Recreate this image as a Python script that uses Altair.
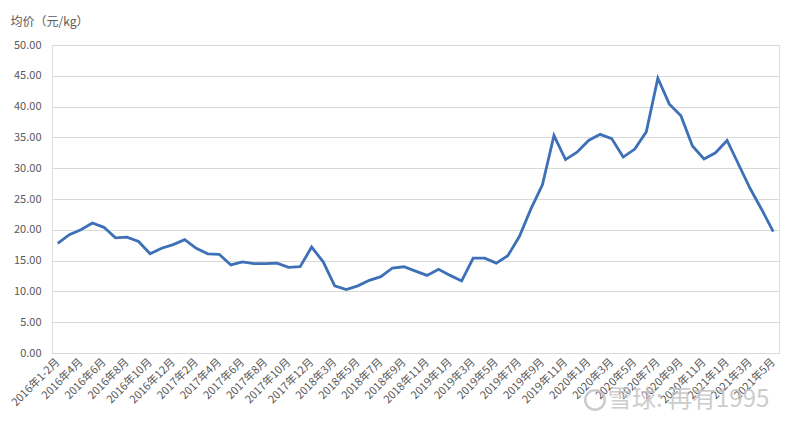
import altair as alt
import pandas as pd

months = (
    ["2016年1-2月"] + [f"2016年{m}月" for m in range(3, 13)]
    + [f"2017年{m}月" for m in range(1, 13)]
    + ["2018年1-2月"] + [f"2018年{m}月" for m in range(3, 13)]
    + [f"2019年{m}月" for m in range(1, 13)]
    + [f"2020年{m}月" for m in range(1, 13)]
    + [f"2021年{m}月" for m in range(1, 6)]
)

prices = [
    17.8, 19.2, 20.0, 21.1, 20.4, 18.7, 18.8, 18.1, 16.1, 17.0, 17.6,
    18.4, 17.0, 16.1, 16.0, 14.3, 14.8, 14.5, 14.5, 14.6, 13.9, 14.0, 17.2,
    14.8, 10.9, 10.3, 10.9, 11.8, 12.4, 13.8, 14.0, 13.3, 12.6, 13.6,
    12.6, 11.7, 15.4, 15.4, 14.6, 15.8, 18.9, 23.4, 27.3, 35.3, 31.4, 32.6,
    34.5, 35.5, 34.8, 31.8, 33.1, 35.9, 44.6, 40.4, 38.5, 33.6, 31.5, 32.5,
    34.5, 30.6, 26.7, 23.3, 19.7,
]

y_ticks = [0, 5, 10, 15, 20, 25, 30, 35, 40, 45, 50]
shown_labels = months[::2]

df = pd.DataFrame({"月份": months, "均价": prices})

FONT = "Noto Sans CJK SC"
GREY = "#595959"

line = alt.Chart(df).mark_line(color="#3d70b7", strokeWidth=2.8).encode(
    x=alt.X(
        "月份:O",
        sort=months,
        scale=alt.Scale(padding=0.5),
        axis=alt.Axis(
            values=shown_labels,
            title=None,
            labelAngle=-45,
            labelAlign="right",
            labelBaseline="middle",
            labelFontSize=11,
            labelColor=GREY,
            labelFont=FONT,
            labelPadding=7,
            ticks=False,
            domainColor="#d9d9d9",
            labelOverlap=False,
            grid=False,
        ),
    ),
    y=alt.Y(
        "均价:Q",
        scale=alt.Scale(domain=[0, 50], nice=False),
        axis=alt.Axis(
            values=y_ticks,
            format=".2f",
            title="均价（元/kg）",
            titleAngle=0,
            titleAlign="left",
            titleBaseline="middle",
            titleX=-42,
            titleY=-24,
            titleFont=FONT,
            titleFontSize=12,
            titleFontWeight="normal",
            titleColor=GREY,
            labelFont=FONT,
            labelFontSize=11,
            labelColor=GREY,
            labelPadding=11,
            ticks=False,
            domain=False,
            gridColor="#d9d9d9",
            gridWidth=1,
        ),
    ),
)

wm_df = pd.DataFrame({"t": ["雪球: 再有1995"]})

watermark = alt.Chart(wm_df).mark_text(
    align="left",
    baseline="middle",
    fontSize=24,
    font=FONT,
    color="#c4c4c4",
    opacity=0.85,
).encode(x=alt.value(556), y=alt.value(355), text="t:N")

logo = alt.Chart(wm_df).mark_point(
    shape="circle",
    filled=False,
    size=380,
    strokeWidth=2.5,
    color="#c4c4c4",
    opacity=0.85,
).encode(x=alt.value(543), y=alt.value(355))

chart = (
    alt.layer(line, logo, watermark)
    .properties(
        width=727,
        height=308,
        autosize=alt.AutoSizeParams(type="none"),
        padding={"left": 44, "top": 37, "right": 13, "bottom": 62},
    )
    .configure_view(stroke=None)
    .configure(background="white")
)

chart.save("out.html", embed_options={"renderer": "svg", "actions": False})
